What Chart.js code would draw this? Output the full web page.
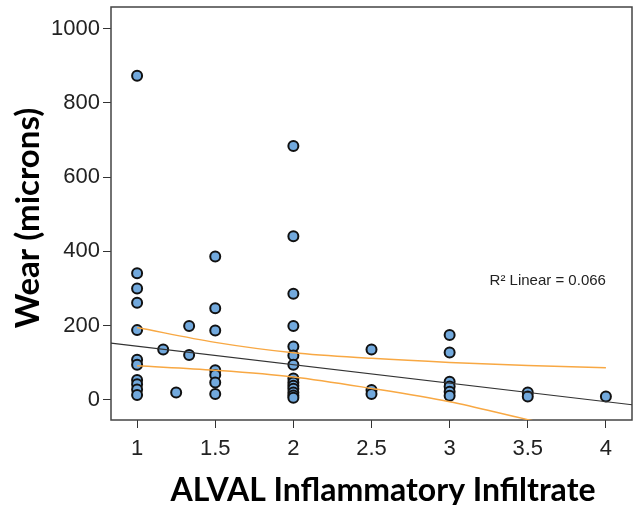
<!DOCTYPE html>
<html lang="en">
<head>
  <meta charset="UTF-8" />
  <title>Wear vs ALVAL</title>
  <script src="https://cdn.jsdelivr.net/npm/chart.js"></script>
  <style>
    body { margin: 0; background: #fff; }
    #wrap { width: 635px; height: 505px; position: relative; }
  </style>
</head>
<body>
  <div id="wrap"><canvas id="wearChart"></canvas></div>

  <script>
    // ALVAL score of each retrieval and the wear measured (microns)
    const alvalScore = [
      1, 1, 1, 1, 1, 1, 1, 1, 1, 1, 1,
      1.167, 1.25, 1.333, 1.333,
      1.5, 1.5, 1.5, 1.5, 1.5, 1.5, 1.5,
      2, 2, 2, 2, 2, 2, 2, 2, 2, 2, 2, 2, 2, 2,
      2.5, 2.5, 2.5,
      3, 3, 3, 3, 3, 3,
      3.5, 3.5,
      4
    ];
    const wearMicrons = [
      873, 341, 300, 262, 188, 108, 95, 54, 42, 28, 13,
      136, 20, 199, 121,
      386, 247, 187, 80, 67, 47, 16,
      684, 441, 286, 199, 144, 120, 95, 58, 47, 38, 30, 20, 12, 6,
      136, 27, 16,
      175, 128, 49, 36, 22, 11,
      20, 9,
      9
    ];

    // linear fit and its 95% mean confidence band
    const fitX = [0.833, 4.167];
    const fitY = [153, -13];
    const bandX = [1, 1.5, 2, 2.5, 3, 3.5, 4];
    const bandUpper = [195, 155, 127, 112, 101, 93, 87];
    const bandLower = [92, 80, 62, 31, -5, -53, -97];

    const xTicks = [1, 1.5, 2, 2.5, 3, 3.5, 4];
    const yTicks = [0, 200, 400, 600, 800, 1000];

    const toPoints = (xs, ys) => xs.map((x, i) => ({ x: x, y: ys[i] }));

    const frame = {
      id: "frame",
      beforeDatasetsDraw(chart) {
        const a = chart.chartArea;
        const ctx = chart.ctx;
        ctx.save();
        ctx.strokeStyle = "#444";
        ctx.lineWidth = 1.5;
        ctx.strokeRect(a.left, a.top, a.right - a.left, a.bottom - a.top);
        ctx.restore();
      },
      afterDraw(chart) {
        const ctx = chart.ctx;
        const xs = chart.scales.x, ys = chart.scales.y;
        ctx.save();
        ctx.fillStyle = "#222";
        ctx.font = "15px 'Liberation Sans', Arial, sans-serif";
        ctx.textAlign = "right";
        ctx.textBaseline = "middle";
        ctx.fillText("R² Linear = 0.066", xs.getPixelForValue(4.0), ys.getPixelForValue(320));

        ctx.fillStyle = "#000";
        ctx.font = "bold 32px Lato, 'Open Sans', sans-serif";
        ctx.textAlign = "center";
        ctx.fillText("ALVAL Inflammatory Infiltrate", 383, 491);

        ctx.font = "bold 33px Lato, 'Open Sans', sans-serif";
        ctx.translate(28, 218);
        ctx.rotate(-Math.PI / 2);
        ctx.fillText("Wear (microns)", 0, 0);
        ctx.restore();
      }
    };

    const tickFont = { family: "'Liberation Sans', Arial, sans-serif", size: 22 };
    const plain = v => String(v);

    new Chart(document.getElementById("wearChart"), {
      type: "scatter",
      data: {
        datasets: [
          {
            type: "line",
            data: toPoints(fitX, fitY),
            borderColor: "#333",
            borderWidth: 1.2,
            pointRadius: 0,
            fill: false
          },
          {
            type: "line",
            data: toPoints(bandX, bandUpper),
            borderColor: "#f8a843",
            borderWidth: 1.5,
            pointRadius: 0,
            cubicInterpolationMode: "monotone",
            fill: false
          },
          {
            type: "line",
            data: toPoints(bandX, bandLower),
            borderColor: "#f8a843",
            borderWidth: 1.5,
            pointRadius: 0,
            cubicInterpolationMode: "monotone",
            fill: false
          },
          {
            data: toPoints(alvalScore, wearMicrons),
            backgroundColor: "#72a9dd",
            borderColor: "#111",
            borderWidth: 2,
            pointRadius: 5
          }
        ]
      },
      options: {
        responsive: true,
        maintainAspectRatio: false,
        animation: false,
        layout: { autoPadding: false, padding: { top: 7, right: 3, left: 0, bottom: 0 } },
        plugins: {
          legend: { display: false },
          tooltip: { enabled: false }
        },
        scales: {
          x: {
            type: "linear",
            min: 0.833,
            max: 4.167,
            afterBuildTicks: s => { s.ticks = xTicks.map(v => ({ value: v })); },
            afterFit: s => { s.height = 85; s.paddingLeft = 0; s.paddingRight = 0; },
            grid: { drawOnChartArea: false, tickLength: 8, color: "#333" },
            border: { display: false },
            ticks: { font: tickFont, color: "#222", padding: 8, maxRotation: 0, callback: plain }
          },
          y: {
            min: -54,
            max: 1058,
            afterBuildTicks: s => { s.ticks = yTicks.map(v => ({ value: v })); },
            afterFit: s => { s.width = 111; s.paddingTop = 0; s.paddingBottom = 0; },
            grid: { drawOnChartArea: false, tickLength: 8, color: "#333" },
            border: { display: false },
            ticks: { font: tickFont, color: "#222", padding: 3, callback: plain }
          }
        }
      },
      plugins: [frame]
    });
  </script>
</body>
</html>
